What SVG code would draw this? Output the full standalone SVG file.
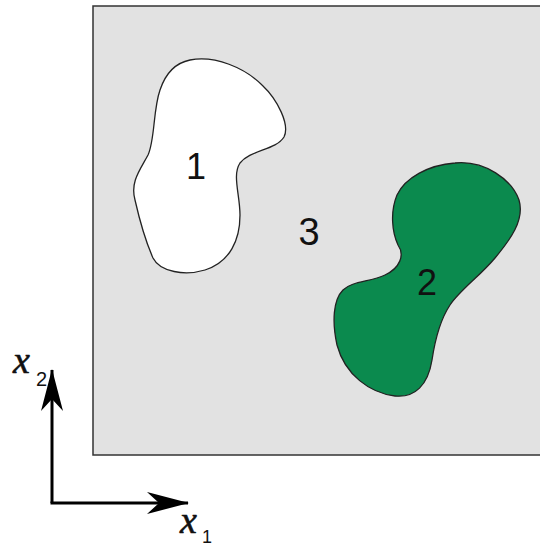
<svg xmlns="http://www.w3.org/2000/svg" width="540" height="543" viewBox="0 0 540 543">
<style>
.lbl{font-family:"Liberation Sans",Arial,sans-serif;fill:#111;}
.ax{font-family:"Liberation Serif","Times New Roman",serif;font-style:italic;fill:#111;stroke:#111;stroke-width:0.6;}
.sub{font-family:"Liberation Sans",Arial,sans-serif;fill:#111;}
.axis{stroke:#000;stroke-width:3;fill:none;}
</style>
<defs>
<marker id="ah" viewBox="0 0 42 22" refX="41" refY="11" markerWidth="42" markerHeight="22" markerUnits="userSpaceOnUse" orient="auto">
<path d="M0,0 L42,11 L0,22 L12,11 Z" fill="#000"/>
</marker>
</defs>
<rect width="540" height="543" fill="#fff"/>
<g id="domain">
<rect x="93" y="6" width="450" height="449" fill="#e2e2e2" stroke="#333" stroke-width="1.5"/>
<text class="lbl" x="309" y="245" font-size="38" text-anchor="middle">3</text>
</g>
<g id="region1">
<path d="M 190,60 C 215,55 245,68 262,85 C 278,100 290,125 284,137 C 276,150 250,150 240,163 C 232,175 240,195 240,215 C 240,240 230,262 205,270 C 185,276 160,272 153,258 C 145,240 140,222 135,200 C 130,182 140,170 148,155 C 155,140 153,110 160,90 C 165,75 175,63 190,60 Z" fill="#fff" stroke="#222" stroke-width="1.3"/>
<text class="lbl" x="196" y="179" font-size="36" text-anchor="middle">1</text>
</g>
<g id="region2">
<path d="M 455,163 C 485,160 512,180 519,200 C 525,220 510,240 495,258 C 480,276 460,290 450,305 C 440,320 435,340 432,360 C 428,385 415,398 395,396 C 370,393 345,375 337,345 C 332,322 333,300 343,290 C 352,281 370,282 385,275 C 400,268 405,255 398,245 C 392,232 390,212 397,195 C 405,178 428,165 455,163 Z" fill="#0b8a4e" stroke="#222" stroke-width="1.3"/>
<text class="lbl" x="427" y="295" font-size="36" text-anchor="middle">2</text>
</g>
<g id="axes">
<path class="axis" d="M52,503 L52,370" marker-end="url(#ah)"/>
<path class="axis" d="M50.5,503 L188,503" marker-end="url(#ah)"/>
</g>
<g id="axis-labels">
<text class="ax" x="13" y="373" font-size="38">x</text>
<text class="sub" x="36" y="386" font-size="20">2</text>
<text class="ax" x="180" y="533" font-size="38">x</text>
<text class="sub" x="202" y="543" font-size="18">1</text>
</g>
</svg>
